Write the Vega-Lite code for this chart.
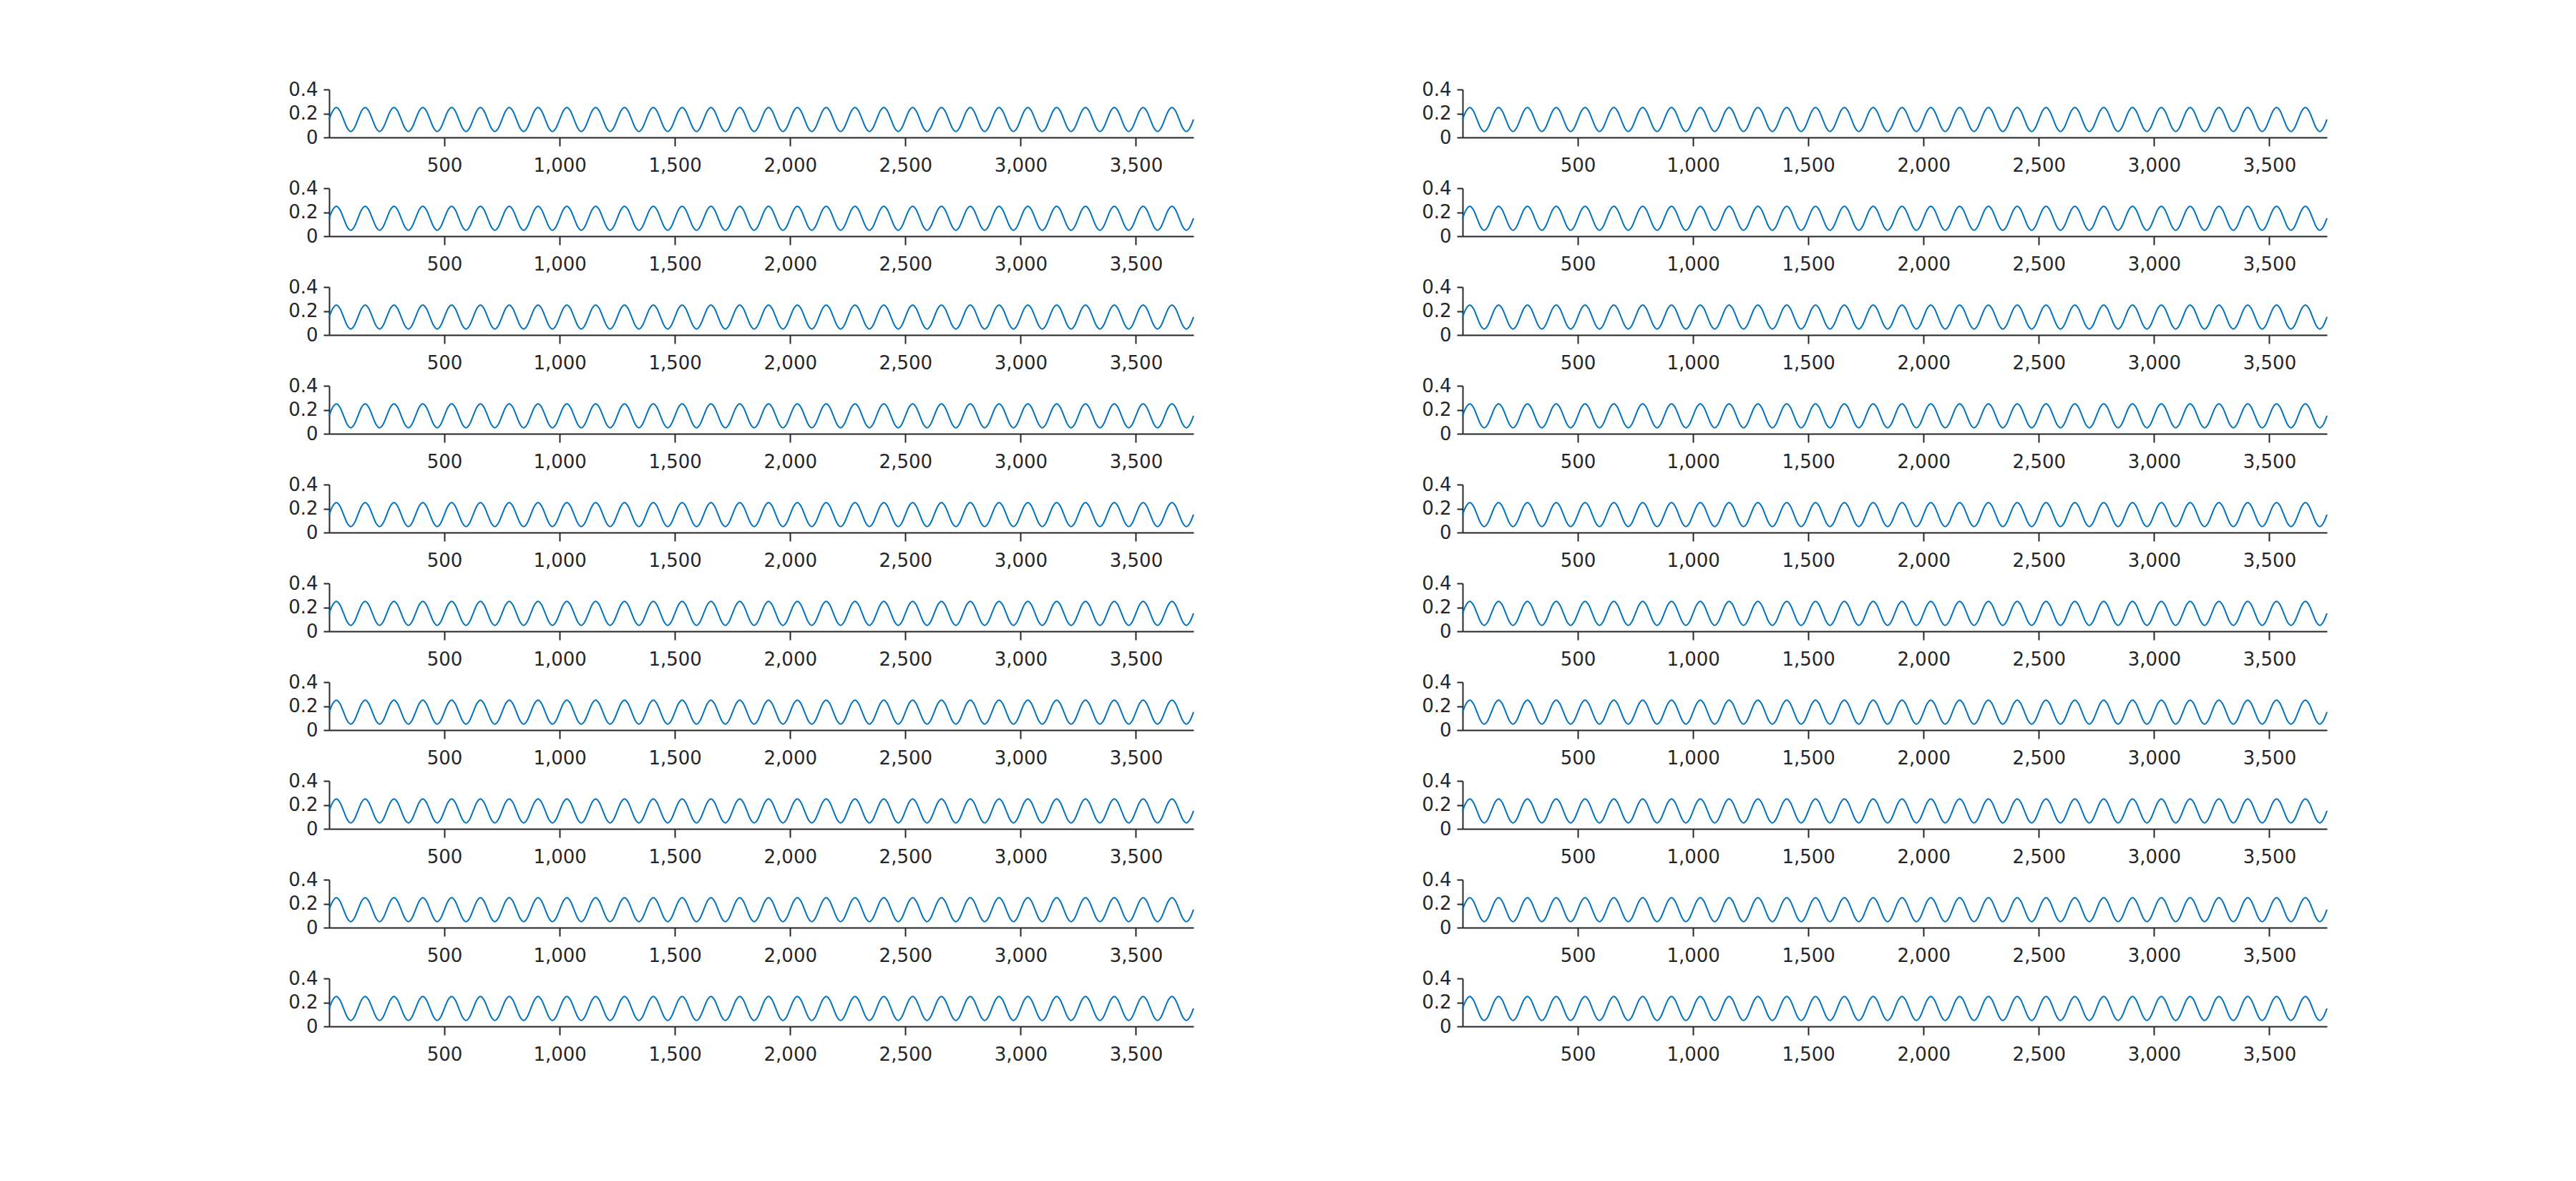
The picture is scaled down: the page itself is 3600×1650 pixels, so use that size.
{
  "$schema": "https://vega.github.io/schema/vega-lite/v6.json",
  "autosize": {"type": "pad"},
  "padding": {"left": 402, "top": 112, "right": 0, "bottom": 0},
  "background": "white",
  "config": {
    "view": {"stroke": null},
    "font": "DejaVu Sans",
    "axis": {"labelFont": "DejaVu Sans", "labelFontSize": 26, "labelColor": "#262626", "domainColor": "#262626", "tickColor": "#262626", "grid": false, "title": null, "domainWidth": 2, "tickWidth": 2}
  },
  "data": {"values": [
    {"t":0,"v":0.15},{"t":15.625,"v":0.2207},{"t":31.25,"v":0.25},{"t":46.875,"v":0.2207},{"t":62.5,"v":0.15},{"t":78.125,"v":0.0793},{"t":93.75,"v":0.05},{"t":109.375,"v":0.0793},
    {"t":125,"v":0.15},{"t":140.625,"v":0.2207},{"t":156.25,"v":0.25},{"t":171.875,"v":0.2207},{"t":187.5,"v":0.15},{"t":203.125,"v":0.0793},{"t":218.75,"v":0.05},{"t":234.375,"v":0.0793},
    {"t":250,"v":0.15},{"t":265.625,"v":0.2207},{"t":281.25,"v":0.25},{"t":296.875,"v":0.2207},{"t":312.5,"v":0.15},{"t":328.125,"v":0.0793},{"t":343.75,"v":0.05},{"t":359.375,"v":0.0793},
    {"t":375,"v":0.15},{"t":390.625,"v":0.2207},{"t":406.25,"v":0.25},{"t":421.875,"v":0.2207},{"t":437.5,"v":0.15},{"t":453.125,"v":0.0793},{"t":468.75,"v":0.05},{"t":484.375,"v":0.0793},
    {"t":500,"v":0.15},{"t":515.625,"v":0.2207},{"t":531.25,"v":0.25},{"t":546.875,"v":0.2207},{"t":562.5,"v":0.15},{"t":578.125,"v":0.0793},{"t":593.75,"v":0.05},{"t":609.375,"v":0.0793},
    {"t":625,"v":0.15},{"t":640.625,"v":0.2207},{"t":656.25,"v":0.25},{"t":671.875,"v":0.2207},{"t":687.5,"v":0.15},{"t":703.125,"v":0.0793},{"t":718.75,"v":0.05},{"t":734.375,"v":0.0793},
    {"t":750,"v":0.15},{"t":765.625,"v":0.2207},{"t":781.25,"v":0.25},{"t":796.875,"v":0.2207},{"t":812.5,"v":0.15},{"t":828.125,"v":0.0793},{"t":843.75,"v":0.05},{"t":859.375,"v":0.0793},
    {"t":875,"v":0.15},{"t":890.625,"v":0.2207},{"t":906.25,"v":0.25},{"t":921.875,"v":0.2207},{"t":937.5,"v":0.15},{"t":953.125,"v":0.0793},{"t":968.75,"v":0.05},{"t":984.375,"v":0.0793},
    {"t":1000,"v":0.15},{"t":1015.625,"v":0.2207},{"t":1031.25,"v":0.25},{"t":1046.875,"v":0.2207},{"t":1062.5,"v":0.15},{"t":1078.125,"v":0.0793},{"t":1093.75,"v":0.05},{"t":1109.375,"v":0.0793},
    {"t":1125,"v":0.15},{"t":1140.625,"v":0.2207},{"t":1156.25,"v":0.25},{"t":1171.875,"v":0.2207},{"t":1187.5,"v":0.15},{"t":1203.125,"v":0.0793},{"t":1218.75,"v":0.05},{"t":1234.375,"v":0.0793},
    {"t":1250,"v":0.15},{"t":1265.625,"v":0.2207},{"t":1281.25,"v":0.25},{"t":1296.875,"v":0.2207},{"t":1312.5,"v":0.15},{"t":1328.125,"v":0.0793},{"t":1343.75,"v":0.05},{"t":1359.375,"v":0.0793},
    {"t":1375,"v":0.15},{"t":1390.625,"v":0.2207},{"t":1406.25,"v":0.25},{"t":1421.875,"v":0.2207},{"t":1437.5,"v":0.15},{"t":1453.125,"v":0.0793},{"t":1468.75,"v":0.05},{"t":1484.375,"v":0.0793},
    {"t":1500,"v":0.15},{"t":1515.625,"v":0.2207},{"t":1531.25,"v":0.25},{"t":1546.875,"v":0.2207},{"t":1562.5,"v":0.15},{"t":1578.125,"v":0.0793},{"t":1593.75,"v":0.05},{"t":1609.375,"v":0.0793},
    {"t":1625,"v":0.15},{"t":1640.625,"v":0.2207},{"t":1656.25,"v":0.25},{"t":1671.875,"v":0.2207},{"t":1687.5,"v":0.15},{"t":1703.125,"v":0.0793},{"t":1718.75,"v":0.05},{"t":1734.375,"v":0.0793},
    {"t":1750,"v":0.15},{"t":1765.625,"v":0.2207},{"t":1781.25,"v":0.25},{"t":1796.875,"v":0.2207},{"t":1812.5,"v":0.15},{"t":1828.125,"v":0.0793},{"t":1843.75,"v":0.05},{"t":1859.375,"v":0.0793},
    {"t":1875,"v":0.15},{"t":1890.625,"v":0.2207},{"t":1906.25,"v":0.25},{"t":1921.875,"v":0.2207},{"t":1937.5,"v":0.15},{"t":1953.125,"v":0.0793},{"t":1968.75,"v":0.05},{"t":1984.375,"v":0.0793},
    {"t":2000,"v":0.15},{"t":2015.625,"v":0.2207},{"t":2031.25,"v":0.25},{"t":2046.875,"v":0.2207},{"t":2062.5,"v":0.15},{"t":2078.125,"v":0.0793},{"t":2093.75,"v":0.05},{"t":2109.375,"v":0.0793},
    {"t":2125,"v":0.15},{"t":2140.625,"v":0.2207},{"t":2156.25,"v":0.25},{"t":2171.875,"v":0.2207},{"t":2187.5,"v":0.15},{"t":2203.125,"v":0.0793},{"t":2218.75,"v":0.05},{"t":2234.375,"v":0.0793},
    {"t":2250,"v":0.15},{"t":2265.625,"v":0.2207},{"t":2281.25,"v":0.25},{"t":2296.875,"v":0.2207},{"t":2312.5,"v":0.15},{"t":2328.125,"v":0.0793},{"t":2343.75,"v":0.05},{"t":2359.375,"v":0.0793},
    {"t":2375,"v":0.15},{"t":2390.625,"v":0.2207},{"t":2406.25,"v":0.25},{"t":2421.875,"v":0.2207},{"t":2437.5,"v":0.15},{"t":2453.125,"v":0.0793},{"t":2468.75,"v":0.05},{"t":2484.375,"v":0.0793},
    {"t":2500,"v":0.15},{"t":2515.625,"v":0.2207},{"t":2531.25,"v":0.25},{"t":2546.875,"v":0.2207},{"t":2562.5,"v":0.15},{"t":2578.125,"v":0.0793},{"t":2593.75,"v":0.05},{"t":2609.375,"v":0.0793},
    {"t":2625,"v":0.15},{"t":2640.625,"v":0.2207},{"t":2656.25,"v":0.25},{"t":2671.875,"v":0.2207},{"t":2687.5,"v":0.15},{"t":2703.125,"v":0.0793},{"t":2718.75,"v":0.05},{"t":2734.375,"v":0.0793},
    {"t":2750,"v":0.15},{"t":2765.625,"v":0.2207},{"t":2781.25,"v":0.25},{"t":2796.875,"v":0.2207},{"t":2812.5,"v":0.15},{"t":2828.125,"v":0.0793},{"t":2843.75,"v":0.05},{"t":2859.375,"v":0.0793},
    {"t":2875,"v":0.15},{"t":2890.625,"v":0.2207},{"t":2906.25,"v":0.25},{"t":2921.875,"v":0.2207},{"t":2937.5,"v":0.15},{"t":2953.125,"v":0.0793},{"t":2968.75,"v":0.05},{"t":2984.375,"v":0.0793},
    {"t":3000,"v":0.15},{"t":3015.625,"v":0.2207},{"t":3031.25,"v":0.25},{"t":3046.875,"v":0.2207},{"t":3062.5,"v":0.15},{"t":3078.125,"v":0.0793},{"t":3093.75,"v":0.05},{"t":3109.375,"v":0.0793},
    {"t":3125,"v":0.15},{"t":3140.625,"v":0.2207},{"t":3156.25,"v":0.25},{"t":3171.875,"v":0.2207},{"t":3187.5,"v":0.15},{"t":3203.125,"v":0.0793},{"t":3218.75,"v":0.05},{"t":3234.375,"v":0.0793},
    {"t":3250,"v":0.15},{"t":3265.625,"v":0.2207},{"t":3281.25,"v":0.25},{"t":3296.875,"v":0.2207},{"t":3312.5,"v":0.15},{"t":3328.125,"v":0.0793},{"t":3343.75,"v":0.05},{"t":3359.375,"v":0.0793},
    {"t":3375,"v":0.15},{"t":3390.625,"v":0.2207},{"t":3406.25,"v":0.25},{"t":3421.875,"v":0.2207},{"t":3437.5,"v":0.15},{"t":3453.125,"v":0.0793},{"t":3468.75,"v":0.05},{"t":3484.375,"v":0.0793},
    {"t":3500,"v":0.15},{"t":3515.625,"v":0.2207},{"t":3531.25,"v":0.25},{"t":3546.875,"v":0.2207},{"t":3562.5,"v":0.15},{"t":3578.125,"v":0.0793},{"t":3593.75,"v":0.05},{"t":3609.375,"v":0.0793},
    {"t":3625,"v":0.15},{"t":3640.625,"v":0.2207},{"t":3656.25,"v":0.25},{"t":3671.875,"v":0.2207},{"t":3687.5,"v":0.15},{"t":3703.125,"v":0.0793},{"t":3718.75,"v":0.05},{"t":3734.375,"v":0.0793},
    {"t":3750,"v":0.15}
  ]},
  "repeat": {
    "row": ["r1", "r2", "r3", "r4", "r5", "r6", "r7", "r8", "r9", "r10"],
    "column": ["c1", "c2"]
  },
  "spacing": {"row": 71, "column": 376},
  "bounds": "flush",
  "spec": {
    "width": 1208,
    "height": 67,
    "mark": {"type": "line", "interpolate": "cardinal", "color": "#0072BD", "strokeWidth": 2},
    "encoding": {
      "x": {
        "field": "t", "type": "quantitative",
        "scale": {"domain": [0, 3750], "nice": false, "zero": false},
        "axis": {"values": [500, 1000, 1500, 2000, 2500, 3000, 3500], "tickSize": 12, "labelPadding": 14, "labelFlush": false}
      },
      "y": {
        "field": "v", "type": "quantitative",
        "scale": {"domain": [0, 0.4], "nice": false},
        "axis": {"values": [0, 0.2, 0.4], "tickSize": 8, "labelPadding": 8, "format": "~g"}
      }
    }
  }
}
